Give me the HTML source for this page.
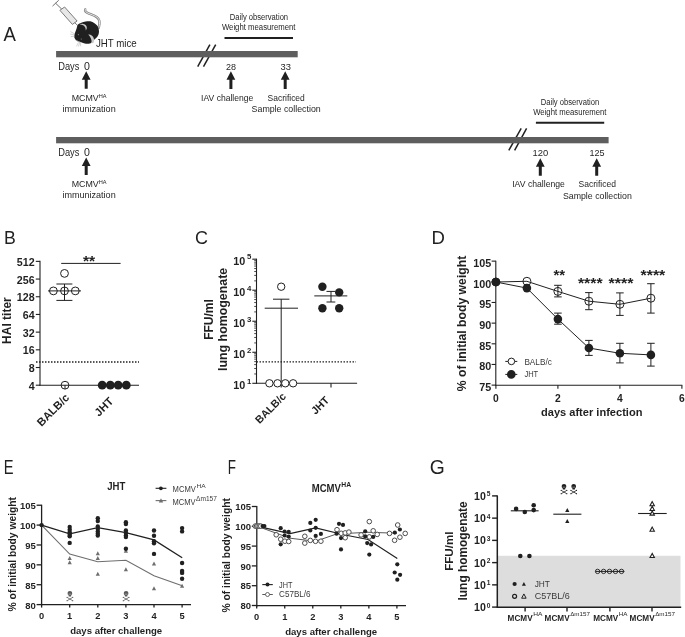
<!DOCTYPE html><html><head><meta charset="utf-8"><style>html,body{margin:0;padding:0;background:#fff;}svg{display:block;filter:grayscale(1);}text{font-family:"Liberation Sans", sans-serif;}</style></head><body>
<svg width="685" height="637" viewBox="0 0 685 637">
<rect width="685" height="637" fill="#fff"/>
<text x="3.60" y="41.00" font-size="19.60" font-weight="normal" text-anchor="start" fill="#231f20" textLength="12.40" lengthAdjust="spacingAndGlyphs">A</text>
<text x="4.00" y="243.60" font-size="18.80" font-weight="normal" text-anchor="start" fill="#231f20" textLength="11.80" lengthAdjust="spacingAndGlyphs">B</text>
<text x="195.00" y="243.60" font-size="18.80" font-weight="normal" text-anchor="start" fill="#231f20" textLength="13.00" lengthAdjust="spacingAndGlyphs">C</text>
<text x="431.60" y="243.50" font-size="18.80" font-weight="normal" text-anchor="start" fill="#231f20" textLength="13.40" lengthAdjust="spacingAndGlyphs">D</text>
<text x="3.70" y="473.90" font-size="19.60" font-weight="normal" text-anchor="start" fill="#231f20" textLength="9.80" lengthAdjust="spacingAndGlyphs">E</text>
<text x="227.80" y="473.90" font-size="19.60" font-weight="normal" text-anchor="start" fill="#231f20" textLength="8.20" lengthAdjust="spacingAndGlyphs">F</text>
<text x="429.80" y="474.00" font-size="20.50" font-weight="normal" text-anchor="start" fill="#231f20" textLength="15.00" lengthAdjust="spacingAndGlyphs">G</text>
<line x1="52.50" y1="6.10" x2="58.70" y2="0.30" stroke="#6d6e71" stroke-width="1.00"/>
<line x1="55.60" y1="3.20" x2="61.80" y2="9.20" stroke="#6d6e71" stroke-width="1.00"/>
<polygon points="59.9,10.3 64.6,7.0 77.1,21.0 72.4,24.4" fill="#e6e7e8" stroke="#6d6e71" stroke-width="0.9"/>
<line x1="74.80" y1="22.80" x2="77.80" y2="25.60" stroke="#6d6e71" stroke-width="0.90"/>
<path d="M85.2,9.4 C84.6,11 86,12.4 89,13.6 C94,15.6 98.6,16.6 99.4,21 C99.8,23.6 99.3,25.6 98.8,27.6" fill="none" stroke="#808285" stroke-width="2.4" stroke-linecap="round"/>
<path d="M85.2,9.4 C84.6,11 86,12.4 89,13.6 C94,15.6 98.6,16.6 99.4,21 C99.8,23.6 99.3,25.6 98.8,27.6" fill="none" stroke="#e6e7e8" stroke-width="1.0" stroke-linecap="round"/>
<path d="M78.00,24.60 C78.78,23.65 80.03,23.22 81.30,22.70 C82.57,22.18 84.10,21.73 85.60,21.50 C87.10,21.27 88.82,21.02 90.30,21.30 C91.78,21.58 93.25,22.33 94.50,23.20 C95.75,24.07 97.05,25.17 97.80,26.50 C98.55,27.83 98.92,29.78 99.00,31.20 C99.08,32.62 98.73,33.90 98.30,35.00 C97.87,36.10 97.18,36.93 96.40,37.80 C95.62,38.67 94.38,39.42 93.60,40.20 C92.82,40.98 92.33,41.95 91.70,42.50 C91.07,43.05 90.75,43.30 89.80,43.50 C88.85,43.70 87.33,43.87 86.00,43.70 C84.67,43.53 83.13,42.93 81.80,42.50 C80.47,42.07 79.10,41.65 78.00,41.10 C76.90,40.55 75.83,40.07 75.20,39.20 C74.57,38.33 74.20,37.07 74.20,35.90 C74.20,34.73 74.80,33.45 75.20,32.20 C75.60,30.95 76.13,29.67 76.60,28.40 C77.07,27.13 77.22,25.55 78.00,24.60 Z" fill="#231f20"/>
<path d="M79.6,24.4 C82.6,23.2 85.6,24.0 86.6,26.6 C87.2,28.2 86.6,29.6 85.8,30.4 C85.8,28.4 85.0,26.6 83.6,25.6 C82.4,24.8 81.0,24.4 79.6,24.4 Z" fill="#c7c8ca"/>
<path d="M88.2,34.6 C91.4,34.6 93.8,36.6 94.0,39.6 C94.1,41.0 93.8,42.2 93.3,43.1 L91.3,43.3 C91.8,41.6 91.6,39.6 90.8,38.2 C90.2,37.0 89.4,35.8 88.2,34.6 Z" fill="#c7c8ca"/>
<path d="M75.2,39.4 C76.2,40.6 78.0,41.6 80.4,42.4" fill="none" stroke="#808285" stroke-width="0.7"/>
<circle cx="78.40" cy="34.60" r="0.60" fill="#808285" stroke="none" stroke-width="1.00"/>
<circle cx="81.30" cy="39.00" r="0.60" fill="#808285" stroke="none" stroke-width="1.00"/>
<line x1="70.40" y1="31.60" x2="75.00" y2="34.00" stroke="#a7a9ac" stroke-width="0.50"/>
<line x1="70.20" y1="34.00" x2="75.00" y2="35.20" stroke="#a7a9ac" stroke-width="0.50"/>
<line x1="70.60" y1="36.60" x2="75.00" y2="36.20" stroke="#a7a9ac" stroke-width="0.50"/>
<line x1="76.40" y1="46.40" x2="78.40" y2="42.60" stroke="#a7a9ac" stroke-width="0.50"/>
<line x1="78.40" y1="46.60" x2="79.60" y2="42.80" stroke="#a7a9ac" stroke-width="0.50"/>
<line x1="80.60" y1="46.20" x2="80.60" y2="42.80" stroke="#a7a9ac" stroke-width="0.50"/>
<text x="95.90" y="46.70" font-size="10.80" font-weight="normal" text-anchor="start" fill="#231f20" textLength="40.90" lengthAdjust="spacingAndGlyphs">JHT mice</text>
<line x1="197.70" y1="66.60" x2="209.90" y2="44.70" stroke="#231f20" stroke-width="1.50"/>
<line x1="203.50" y1="66.60" x2="215.70" y2="44.70" stroke="#231f20" stroke-width="1.50"/>
<rect x="56.1" y="51.00" width="241.60" height="6.3" fill="#5d5e60"/>
<line x1="508.80" y1="150.30" x2="521.20" y2="128.30" stroke="#231f20" stroke-width="1.50"/>
<line x1="514.60" y1="150.30" x2="526.60" y2="128.30" stroke="#231f20" stroke-width="1.50"/>
<rect x="56.1" y="137.00" width="552.50" height="6.3" fill="#5d5e60"/>
<text x="58.20" y="70.00" font-size="10.60" font-weight="normal" text-anchor="start" fill="#231f20" textLength="21.20" lengthAdjust="spacingAndGlyphs">Days</text>
<text x="84.00" y="70.00" font-size="10.60" font-weight="normal" text-anchor="start" fill="#231f20" textLength="5.90" lengthAdjust="spacingAndGlyphs">0</text>
<polygon points="86.20,71.30 90.60,79.70 87.70,79.70 87.70,88.80 84.70,88.80 84.70,79.70 81.80,79.70" fill="#231f20"/>
<text x="71.70" y="101.00" font-size="9.20" font-weight="normal" text-anchor="start" fill="#231f20" textLength="27.00" lengthAdjust="spacingAndGlyphs">MCMV</text>
<text x="98.70" y="98.00" font-size="4.80" font-weight="normal" text-anchor="start" fill="#231f20" textLength="7.80" lengthAdjust="spacingAndGlyphs">HA</text>
<text x="62.40" y="112.10" font-size="9.60" font-weight="normal" text-anchor="start" fill="#231f20" textLength="53.30" lengthAdjust="spacingAndGlyphs">immunization</text>
<text x="58.20" y="156.20" font-size="10.60" font-weight="normal" text-anchor="start" fill="#231f20" textLength="21.20" lengthAdjust="spacingAndGlyphs">Days</text>
<text x="84.00" y="156.20" font-size="10.60" font-weight="normal" text-anchor="start" fill="#231f20" textLength="5.90" lengthAdjust="spacingAndGlyphs">0</text>
<polygon points="86.20,157.50 90.60,165.90 87.70,165.90 87.70,175.00 84.70,175.00 84.70,165.90 81.80,165.90" fill="#231f20"/>
<text x="71.70" y="187.20" font-size="9.20" font-weight="normal" text-anchor="start" fill="#231f20" textLength="27.00" lengthAdjust="spacingAndGlyphs">MCMV</text>
<text x="98.70" y="184.20" font-size="4.80" font-weight="normal" text-anchor="start" fill="#231f20" textLength="7.80" lengthAdjust="spacingAndGlyphs">HA</text>
<text x="62.40" y="198.30" font-size="9.60" font-weight="normal" text-anchor="start" fill="#231f20" textLength="53.30" lengthAdjust="spacingAndGlyphs">immunization</text>
<text x="229.80" y="19.80" font-size="8.30" font-weight="normal" text-anchor="start" fill="#231f20" textLength="58.30" lengthAdjust="spacingAndGlyphs">Daily observation</text>
<text x="221.90" y="30.00" font-size="8.30" font-weight="normal" text-anchor="start" fill="#231f20" textLength="73.60" lengthAdjust="spacingAndGlyphs">Weight measurement</text>
<line x1="224.50" y1="38.00" x2="293.00" y2="38.00" stroke="#231f20" stroke-width="2.00"/>
<text x="225.90" y="69.90" font-size="9.90" font-weight="normal" text-anchor="start" fill="#231f20" textLength="10.00" lengthAdjust="spacingAndGlyphs">28</text>
<text x="280.60" y="69.90" font-size="9.90" font-weight="normal" text-anchor="start" fill="#231f20" textLength="10.40" lengthAdjust="spacingAndGlyphs">33</text>
<polygon points="230.90,71.30 235.30,79.70 232.40,79.70 232.40,89.00 229.40,89.00 229.40,79.70 226.50,79.70" fill="#231f20"/>
<polygon points="285.20,71.30 289.60,79.70 286.70,79.70 286.70,89.00 283.70,89.00 283.70,79.70 280.80,79.70" fill="#231f20"/>
<text x="201.10" y="100.80" font-size="9.60" font-weight="normal" text-anchor="start" fill="#231f20" textLength="52.20" lengthAdjust="spacingAndGlyphs">IAV challenge</text>
<text x="267.60" y="100.80" font-size="9.60" font-weight="normal" text-anchor="start" fill="#231f20" textLength="37.20" lengthAdjust="spacingAndGlyphs">Sacrificed</text>
<text x="251.60" y="112.00" font-size="9.60" font-weight="normal" text-anchor="start" fill="#231f20" textLength="69.10" lengthAdjust="spacingAndGlyphs">Sample collection</text>
<text x="540.70" y="104.50" font-size="8.30" font-weight="normal" text-anchor="start" fill="#231f20" textLength="58.50" lengthAdjust="spacingAndGlyphs">Daily observation</text>
<text x="533.20" y="114.60" font-size="8.30" font-weight="normal" text-anchor="start" fill="#231f20" textLength="73.30" lengthAdjust="spacingAndGlyphs">Weight measurement</text>
<line x1="535.90" y1="122.80" x2="604.20" y2="122.80" stroke="#231f20" stroke-width="2.00"/>
<text x="532.60" y="156.30" font-size="9.90" font-weight="normal" text-anchor="start" fill="#231f20" textLength="15.70" lengthAdjust="spacingAndGlyphs">120</text>
<text x="589.40" y="156.30" font-size="9.90" font-weight="normal" text-anchor="start" fill="#231f20" textLength="15.10" lengthAdjust="spacingAndGlyphs">125</text>
<polygon points="540.30,158.30 544.70,166.70 541.80,166.70 541.80,175.70 538.80,175.70 538.80,166.70 535.90,166.70" fill="#231f20"/>
<polygon points="596.70,158.30 601.10,166.70 598.20,166.70 598.20,175.70 595.20,175.70 595.20,166.70 592.30,166.70" fill="#231f20"/>
<text x="512.20" y="187.30" font-size="9.60" font-weight="normal" text-anchor="start" fill="#231f20" textLength="52.70" lengthAdjust="spacingAndGlyphs">IAV challenge</text>
<text x="578.60" y="187.30" font-size="9.60" font-weight="normal" text-anchor="start" fill="#231f20" textLength="37.40" lengthAdjust="spacingAndGlyphs">Sacrificed</text>
<text x="562.90" y="198.90" font-size="9.60" font-weight="normal" text-anchor="start" fill="#231f20" textLength="68.90" lengthAdjust="spacingAndGlyphs">Sample collection</text>
<line x1="40.00" y1="260.87" x2="40.00" y2="385.70" stroke="#231f20" stroke-width="1.10"/>
<line x1="39.50" y1="385.20" x2="139.00" y2="385.20" stroke="#231f20" stroke-width="1.10"/>
<line x1="35.80" y1="261.37" x2="40.00" y2="261.37" stroke="#231f20" stroke-width="1.10"/>
<text x="34.60" y="265.87" font-size="10.70" font-weight="bold" text-anchor="end" fill="#231f20">512</text>
<line x1="35.80" y1="279.06" x2="40.00" y2="279.06" stroke="#231f20" stroke-width="1.10"/>
<text x="34.60" y="283.56" font-size="10.70" font-weight="bold" text-anchor="end" fill="#231f20">256</text>
<line x1="35.80" y1="296.75" x2="40.00" y2="296.75" stroke="#231f20" stroke-width="1.10"/>
<text x="34.60" y="301.25" font-size="10.70" font-weight="bold" text-anchor="end" fill="#231f20">128</text>
<line x1="35.80" y1="314.44" x2="40.00" y2="314.44" stroke="#231f20" stroke-width="1.10"/>
<text x="34.60" y="318.94" font-size="10.70" font-weight="bold" text-anchor="end" fill="#231f20">64</text>
<line x1="35.80" y1="332.13" x2="40.00" y2="332.13" stroke="#231f20" stroke-width="1.10"/>
<text x="34.60" y="336.63" font-size="10.70" font-weight="bold" text-anchor="end" fill="#231f20">32</text>
<line x1="35.80" y1="349.82" x2="40.00" y2="349.82" stroke="#231f20" stroke-width="1.10"/>
<text x="34.60" y="354.32" font-size="10.70" font-weight="bold" text-anchor="end" fill="#231f20">16</text>
<line x1="35.80" y1="367.51" x2="40.00" y2="367.51" stroke="#231f20" stroke-width="1.10"/>
<text x="34.60" y="372.01" font-size="10.70" font-weight="bold" text-anchor="end" fill="#231f20">8</text>
<line x1="35.80" y1="385.20" x2="40.00" y2="385.20" stroke="#231f20" stroke-width="1.10"/>
<text x="34.60" y="389.70" font-size="10.70" font-weight="bold" text-anchor="end" fill="#231f20">4</text>
<line x1="36.00" y1="362.00" x2="139.00" y2="362.00" stroke="#231f20" stroke-width="1.30" stroke-dasharray="1.5 1.5"/>
<text transform="translate(10.6,320.6) rotate(-90)" x="0" y="0" font-size="12" font-weight="bold" text-anchor="middle" fill="#231f20">HAI titer</text>
<line x1="61.20" y1="263.40" x2="120.60" y2="263.40" stroke="#231f20" stroke-width="1.00"/>
<text x="89.10" y="266.40" font-size="15.00" font-weight="bold" text-anchor="middle" fill="#231f20" textLength="12.20" lengthAdjust="spacingAndGlyphs">**</text>
<line x1="64.50" y1="284.00" x2="64.50" y2="300.40" stroke="#231f20" stroke-width="1.00"/>
<line x1="56.40" y1="284.00" x2="72.40" y2="284.00" stroke="#231f20" stroke-width="1.00"/>
<line x1="56.40" y1="300.40" x2="72.40" y2="300.40" stroke="#231f20" stroke-width="1.00"/>
<circle cx="64.50" cy="273.40" r="3.90" fill="none" stroke="#231f20" stroke-width="1.00"/>
<circle cx="53.40" cy="290.90" r="3.90" fill="none" stroke="#231f20" stroke-width="1.00"/>
<circle cx="64.50" cy="290.90" r="3.90" fill="none" stroke="#231f20" stroke-width="1.00"/>
<circle cx="75.30" cy="290.90" r="3.90" fill="none" stroke="#231f20" stroke-width="1.00"/>
<circle cx="65.00" cy="385.20" r="3.90" fill="none" stroke="#231f20" stroke-width="1.00"/>
<line x1="48.00" y1="290.90" x2="81.00" y2="290.90" stroke="#231f20" stroke-width="1.00"/>
<line x1="65.00" y1="385.20" x2="65.00" y2="389.00" stroke="#231f20" stroke-width="1.00"/>
<circle cx="102.20" cy="385.20" r="4.40" fill="#231f20" stroke="none" stroke-width="1.00"/>
<circle cx="110.30" cy="385.20" r="4.40" fill="#231f20" stroke="none" stroke-width="1.00"/>
<circle cx="118.20" cy="385.20" r="4.40" fill="#231f20" stroke="none" stroke-width="1.00"/>
<circle cx="126.30" cy="385.20" r="4.40" fill="#231f20" stroke="none" stroke-width="1.00"/>
<text transform="translate(70.00,398.40) rotate(-45)" x="0" y="0" font-size="11.20" font-weight="bold" text-anchor="end" fill="#231f20">BALB/c</text>
<text transform="translate(114.00,402.00) rotate(-45)" x="0" y="0" font-size="11.20" font-weight="bold" text-anchor="end" fill="#231f20">JHT</text>
<line x1="256.50" y1="258.68" x2="256.50" y2="383.80" stroke="#231f20" stroke-width="1.10"/>
<line x1="256.00" y1="383.30" x2="357.10" y2="383.30" stroke="#231f20" stroke-width="1.10"/>
<line x1="252.30" y1="383.30" x2="256.50" y2="383.30" stroke="#231f20" stroke-width="1.10"/>
<text x="245.30" y="389.10" font-size="10.80" font-weight="bold" text-anchor="end" fill="#231f20">10</text>
<text x="246.90" y="383.60" font-size="7.80" font-weight="bold" text-anchor="start" fill="#231f20">1</text>
<line x1="254.20" y1="373.96" x2="256.50" y2="373.96" stroke="#231f20" stroke-width="0.80"/>
<line x1="254.20" y1="368.49" x2="256.50" y2="368.49" stroke="#231f20" stroke-width="0.80"/>
<line x1="254.20" y1="364.62" x2="256.50" y2="364.62" stroke="#231f20" stroke-width="0.80"/>
<line x1="254.20" y1="361.61" x2="256.50" y2="361.61" stroke="#231f20" stroke-width="0.80"/>
<line x1="254.20" y1="359.15" x2="256.50" y2="359.15" stroke="#231f20" stroke-width="0.80"/>
<line x1="254.20" y1="357.08" x2="256.50" y2="357.08" stroke="#231f20" stroke-width="0.80"/>
<line x1="254.20" y1="355.28" x2="256.50" y2="355.28" stroke="#231f20" stroke-width="0.80"/>
<line x1="254.20" y1="353.69" x2="256.50" y2="353.69" stroke="#231f20" stroke-width="0.80"/>
<line x1="252.30" y1="352.27" x2="256.50" y2="352.27" stroke="#231f20" stroke-width="1.10"/>
<text x="245.30" y="358.07" font-size="10.80" font-weight="bold" text-anchor="end" fill="#231f20">10</text>
<text x="246.90" y="352.57" font-size="7.80" font-weight="bold" text-anchor="start" fill="#231f20">2</text>
<line x1="254.20" y1="342.93" x2="256.50" y2="342.93" stroke="#231f20" stroke-width="0.80"/>
<line x1="254.20" y1="337.46" x2="256.50" y2="337.46" stroke="#231f20" stroke-width="0.80"/>
<line x1="254.20" y1="333.59" x2="256.50" y2="333.59" stroke="#231f20" stroke-width="0.80"/>
<line x1="254.20" y1="330.58" x2="256.50" y2="330.58" stroke="#231f20" stroke-width="0.80"/>
<line x1="254.20" y1="328.12" x2="256.50" y2="328.12" stroke="#231f20" stroke-width="0.80"/>
<line x1="254.20" y1="326.05" x2="256.50" y2="326.05" stroke="#231f20" stroke-width="0.80"/>
<line x1="254.20" y1="324.25" x2="256.50" y2="324.25" stroke="#231f20" stroke-width="0.80"/>
<line x1="254.20" y1="322.66" x2="256.50" y2="322.66" stroke="#231f20" stroke-width="0.80"/>
<line x1="252.30" y1="321.24" x2="256.50" y2="321.24" stroke="#231f20" stroke-width="1.10"/>
<text x="245.30" y="327.04" font-size="10.80" font-weight="bold" text-anchor="end" fill="#231f20">10</text>
<text x="246.90" y="321.54" font-size="7.80" font-weight="bold" text-anchor="start" fill="#231f20">3</text>
<line x1="254.20" y1="311.90" x2="256.50" y2="311.90" stroke="#231f20" stroke-width="0.80"/>
<line x1="254.20" y1="306.43" x2="256.50" y2="306.43" stroke="#231f20" stroke-width="0.80"/>
<line x1="254.20" y1="302.56" x2="256.50" y2="302.56" stroke="#231f20" stroke-width="0.80"/>
<line x1="254.20" y1="299.55" x2="256.50" y2="299.55" stroke="#231f20" stroke-width="0.80"/>
<line x1="254.20" y1="297.09" x2="256.50" y2="297.09" stroke="#231f20" stroke-width="0.80"/>
<line x1="254.20" y1="295.02" x2="256.50" y2="295.02" stroke="#231f20" stroke-width="0.80"/>
<line x1="254.20" y1="293.22" x2="256.50" y2="293.22" stroke="#231f20" stroke-width="0.80"/>
<line x1="254.20" y1="291.63" x2="256.50" y2="291.63" stroke="#231f20" stroke-width="0.80"/>
<line x1="252.30" y1="290.21" x2="256.50" y2="290.21" stroke="#231f20" stroke-width="1.10"/>
<text x="245.30" y="296.01" font-size="10.80" font-weight="bold" text-anchor="end" fill="#231f20">10</text>
<text x="246.90" y="290.51" font-size="7.80" font-weight="bold" text-anchor="start" fill="#231f20">4</text>
<line x1="254.20" y1="280.87" x2="256.50" y2="280.87" stroke="#231f20" stroke-width="0.80"/>
<line x1="254.20" y1="275.40" x2="256.50" y2="275.40" stroke="#231f20" stroke-width="0.80"/>
<line x1="254.20" y1="271.53" x2="256.50" y2="271.53" stroke="#231f20" stroke-width="0.80"/>
<line x1="254.20" y1="268.52" x2="256.50" y2="268.52" stroke="#231f20" stroke-width="0.80"/>
<line x1="254.20" y1="266.06" x2="256.50" y2="266.06" stroke="#231f20" stroke-width="0.80"/>
<line x1="254.20" y1="263.99" x2="256.50" y2="263.99" stroke="#231f20" stroke-width="0.80"/>
<line x1="254.20" y1="262.19" x2="256.50" y2="262.19" stroke="#231f20" stroke-width="0.80"/>
<line x1="254.20" y1="260.60" x2="256.50" y2="260.60" stroke="#231f20" stroke-width="0.80"/>
<line x1="252.30" y1="259.18" x2="256.50" y2="259.18" stroke="#231f20" stroke-width="1.10"/>
<text x="245.30" y="264.98" font-size="10.80" font-weight="bold" text-anchor="end" fill="#231f20">10</text>
<text x="246.90" y="259.48" font-size="7.80" font-weight="bold" text-anchor="start" fill="#231f20">5</text>
<line x1="331.00" y1="383.30" x2="331.00" y2="387.40" stroke="#231f20" stroke-width="1.10"/>
<line x1="281.20" y1="383.30" x2="281.20" y2="387.40" stroke="#231f20" stroke-width="1.10"/>
<line x1="256.50" y1="361.80" x2="356.00" y2="361.80" stroke="#231f20" stroke-width="1.30" stroke-dasharray="1.5 1.5"/>
<text transform="translate(213.4,319.5) rotate(-90)" x="0" y="0" font-size="12" font-weight="bold" text-anchor="middle" fill="#231f20">FFU/ml</text>
<text transform="translate(226.6,319.4) rotate(-90)" x="0" y="0" font-size="12.4" font-weight="bold" text-anchor="middle" fill="#231f20">lung homogenate</text>
<line x1="281.20" y1="299.20" x2="281.20" y2="383.30" stroke="#231f20" stroke-width="1.00"/>
<line x1="273.00" y1="299.20" x2="289.40" y2="299.20" stroke="#231f20" stroke-width="1.00"/>
<line x1="264.70" y1="308.20" x2="298.00" y2="308.20" stroke="#231f20" stroke-width="1.00"/>
<circle cx="281.20" cy="286.70" r="3.70" fill="#fff" stroke="#231f20" stroke-width="1.00"/>
<circle cx="269.40" cy="383.30" r="3.70" fill="#fff" stroke="#231f20" stroke-width="1.00"/>
<circle cx="277.50" cy="383.30" r="3.70" fill="#fff" stroke="#231f20" stroke-width="1.00"/>
<circle cx="285.30" cy="383.30" r="3.70" fill="#fff" stroke="#231f20" stroke-width="1.00"/>
<circle cx="293.10" cy="383.30" r="3.70" fill="#fff" stroke="#231f20" stroke-width="1.00"/>
<circle cx="322.40" cy="286.70" r="4.20" fill="#231f20" stroke="none" stroke-width="1.00"/>
<circle cx="339.20" cy="292.40" r="4.20" fill="#231f20" stroke="none" stroke-width="1.00"/>
<circle cx="322.40" cy="308.20" r="4.20" fill="#231f20" stroke="none" stroke-width="1.00"/>
<circle cx="339.20" cy="308.20" r="4.20" fill="#231f20" stroke="none" stroke-width="1.00"/>
<line x1="331.00" y1="291.40" x2="331.00" y2="302.00" stroke="#231f20" stroke-width="1.00"/>
<line x1="326.50" y1="291.40" x2="335.30" y2="291.40" stroke="#231f20" stroke-width="1.00"/>
<line x1="326.50" y1="302.00" x2="335.30" y2="302.00" stroke="#231f20" stroke-width="1.00"/>
<line x1="314.30" y1="295.90" x2="347.30" y2="295.90" stroke="#231f20" stroke-width="1.00"/>
<text transform="translate(286.80,397.00) rotate(-45)" x="0" y="0" font-size="10.70" font-weight="bold" text-anchor="end" fill="#231f20">BALB/c</text>
<text transform="translate(329.90,400.80) rotate(-45)" x="0" y="0" font-size="10.70" font-weight="bold" text-anchor="end" fill="#231f20">JHT</text>
<line x1="495.80" y1="260.63" x2="495.80" y2="385.80" stroke="#231f20" stroke-width="1.10"/>
<line x1="495.30" y1="385.30" x2="682.30" y2="385.30" stroke="#231f20" stroke-width="1.10"/>
<line x1="491.60" y1="261.13" x2="495.80" y2="261.13" stroke="#231f20" stroke-width="1.10"/>
<text x="491.30" y="267.03" font-size="10.80" font-weight="bold" text-anchor="end" fill="#231f20">105</text>
<line x1="491.60" y1="281.80" x2="495.80" y2="281.80" stroke="#231f20" stroke-width="1.10"/>
<text x="491.30" y="287.70" font-size="10.80" font-weight="bold" text-anchor="end" fill="#231f20">100</text>
<line x1="491.60" y1="302.47" x2="495.80" y2="302.47" stroke="#231f20" stroke-width="1.10"/>
<text x="491.30" y="308.37" font-size="10.80" font-weight="bold" text-anchor="end" fill="#231f20">95</text>
<line x1="491.60" y1="323.13" x2="495.80" y2="323.13" stroke="#231f20" stroke-width="1.10"/>
<text x="491.30" y="329.03" font-size="10.80" font-weight="bold" text-anchor="end" fill="#231f20">90</text>
<line x1="491.60" y1="343.80" x2="495.80" y2="343.80" stroke="#231f20" stroke-width="1.10"/>
<text x="491.30" y="349.69" font-size="10.80" font-weight="bold" text-anchor="end" fill="#231f20">85</text>
<line x1="491.60" y1="364.46" x2="495.80" y2="364.46" stroke="#231f20" stroke-width="1.10"/>
<text x="491.30" y="370.36" font-size="10.80" font-weight="bold" text-anchor="end" fill="#231f20">80</text>
<line x1="491.60" y1="385.12" x2="495.80" y2="385.12" stroke="#231f20" stroke-width="1.10"/>
<text x="491.30" y="391.02" font-size="10.80" font-weight="bold" text-anchor="end" fill="#231f20">75</text>
<line x1="495.90" y1="385.30" x2="495.90" y2="388.80" stroke="#231f20" stroke-width="1.10"/>
<text x="495.90" y="402.30" font-size="10.30" font-weight="bold" text-anchor="middle" fill="#231f20">0</text>
<line x1="557.90" y1="385.30" x2="557.90" y2="388.80" stroke="#231f20" stroke-width="1.10"/>
<text x="557.90" y="402.30" font-size="10.30" font-weight="bold" text-anchor="middle" fill="#231f20">2</text>
<line x1="619.90" y1="385.30" x2="619.90" y2="388.80" stroke="#231f20" stroke-width="1.10"/>
<text x="619.90" y="402.30" font-size="10.30" font-weight="bold" text-anchor="middle" fill="#231f20">4</text>
<line x1="681.90" y1="385.30" x2="681.90" y2="388.80" stroke="#231f20" stroke-width="1.10"/>
<text x="681.90" y="402.30" font-size="10.30" font-weight="bold" text-anchor="middle" fill="#231f20">6</text>
<text x="591.70" y="416.00" font-size="11.00" font-weight="bold" text-anchor="middle" fill="#231f20" textLength="101.40" lengthAdjust="spacingAndGlyphs">days after infection</text>
<text transform="translate(466.2,323.5) rotate(-90)" x="0" y="0" font-size="12.2" font-weight="bold" text-anchor="middle" fill="#231f20">% of initial body weight</text>
<polyline points="495.90,282.00 526.90,281.30 557.90,291.40 588.90,301.20 619.90,304.30 650.90,298.20" fill="none" stroke="#231f20" stroke-width="1.00"/>
<polyline points="495.90,282.00 526.90,288.10 557.90,319.10 588.90,348.00 619.90,353.30 650.90,354.90" fill="none" stroke="#231f20" stroke-width="1.00"/>
<line x1="557.90" y1="285.30" x2="557.90" y2="296.90" stroke="#231f20" stroke-width="1.00"/>
<line x1="554.10" y1="285.30" x2="561.70" y2="285.30" stroke="#231f20" stroke-width="1.00"/>
<line x1="554.10" y1="296.90" x2="561.70" y2="296.90" stroke="#231f20" stroke-width="1.00"/>
<line x1="588.90" y1="292.60" x2="588.90" y2="309.70" stroke="#231f20" stroke-width="1.00"/>
<line x1="585.10" y1="292.60" x2="592.70" y2="292.60" stroke="#231f20" stroke-width="1.00"/>
<line x1="585.10" y1="309.70" x2="592.70" y2="309.70" stroke="#231f20" stroke-width="1.00"/>
<line x1="619.90" y1="292.90" x2="619.90" y2="315.40" stroke="#231f20" stroke-width="1.00"/>
<line x1="616.10" y1="292.90" x2="623.70" y2="292.90" stroke="#231f20" stroke-width="1.00"/>
<line x1="616.10" y1="315.40" x2="623.70" y2="315.40" stroke="#231f20" stroke-width="1.00"/>
<line x1="650.90" y1="283.70" x2="650.90" y2="313.10" stroke="#231f20" stroke-width="1.00"/>
<line x1="647.10" y1="283.70" x2="654.70" y2="283.70" stroke="#231f20" stroke-width="1.00"/>
<line x1="647.10" y1="313.10" x2="654.70" y2="313.10" stroke="#231f20" stroke-width="1.00"/>
<line x1="557.90" y1="313.10" x2="557.90" y2="324.20" stroke="#231f20" stroke-width="1.00"/>
<line x1="554.10" y1="313.10" x2="561.70" y2="313.10" stroke="#231f20" stroke-width="1.00"/>
<line x1="554.10" y1="324.20" x2="561.70" y2="324.20" stroke="#231f20" stroke-width="1.00"/>
<line x1="588.90" y1="340.40" x2="588.90" y2="355.40" stroke="#231f20" stroke-width="1.00"/>
<line x1="585.10" y1="340.40" x2="592.70" y2="340.40" stroke="#231f20" stroke-width="1.00"/>
<line x1="585.10" y1="355.40" x2="592.70" y2="355.40" stroke="#231f20" stroke-width="1.00"/>
<line x1="619.90" y1="343.30" x2="619.90" y2="362.90" stroke="#231f20" stroke-width="1.00"/>
<line x1="616.10" y1="343.30" x2="623.70" y2="343.30" stroke="#231f20" stroke-width="1.00"/>
<line x1="616.10" y1="362.90" x2="623.70" y2="362.90" stroke="#231f20" stroke-width="1.00"/>
<line x1="650.90" y1="343.30" x2="650.90" y2="366.10" stroke="#231f20" stroke-width="1.00"/>
<line x1="647.10" y1="343.30" x2="654.70" y2="343.30" stroke="#231f20" stroke-width="1.00"/>
<line x1="647.10" y1="366.10" x2="654.70" y2="366.10" stroke="#231f20" stroke-width="1.00"/>
<circle cx="495.90" cy="282.00" r="4.00" fill="none" stroke="#231f20" stroke-width="1.00"/>
<circle cx="526.90" cy="281.30" r="4.00" fill="none" stroke="#231f20" stroke-width="1.00"/>
<circle cx="557.90" cy="291.40" r="4.00" fill="none" stroke="#231f20" stroke-width="1.00"/>
<circle cx="588.90" cy="301.20" r="4.00" fill="none" stroke="#231f20" stroke-width="1.00"/>
<circle cx="619.90" cy="304.30" r="4.00" fill="none" stroke="#231f20" stroke-width="1.00"/>
<circle cx="650.90" cy="298.20" r="4.00" fill="none" stroke="#231f20" stroke-width="1.00"/>
<circle cx="495.90" cy="282.00" r="4.30" fill="#231f20" stroke="none" stroke-width="1.00"/>
<circle cx="526.90" cy="288.10" r="4.30" fill="#231f20" stroke="none" stroke-width="1.00"/>
<circle cx="557.90" cy="319.10" r="4.30" fill="#231f20" stroke="none" stroke-width="1.00"/>
<circle cx="588.90" cy="348.00" r="4.30" fill="#231f20" stroke="none" stroke-width="1.00"/>
<circle cx="619.90" cy="353.30" r="4.30" fill="#231f20" stroke="none" stroke-width="1.00"/>
<circle cx="650.90" cy="354.90" r="4.30" fill="#231f20" stroke="none" stroke-width="1.00"/>
<text x="559.20" y="280.30" font-size="15.00" font-weight="bold" text-anchor="middle" fill="#231f20" textLength="11.60" lengthAdjust="spacingAndGlyphs">**</text>
<text x="590.25" y="288.00" font-size="15.00" font-weight="bold" text-anchor="middle" fill="#231f20" textLength="24.70" lengthAdjust="spacingAndGlyphs">****</text>
<text x="621.10" y="288.40" font-size="15.00" font-weight="bold" text-anchor="middle" fill="#231f20" textLength="25.00" lengthAdjust="spacingAndGlyphs">****</text>
<text x="652.90" y="280.30" font-size="15.00" font-weight="bold" text-anchor="middle" fill="#231f20" textLength="24.80" lengthAdjust="spacingAndGlyphs">****</text>
<line x1="505.30" y1="361.40" x2="517.30" y2="361.40" stroke="#231f20" stroke-width="1.00"/>
<circle cx="511.40" cy="361.40" r="3.30" fill="#fff" stroke="#231f20" stroke-width="1.00"/>
<line x1="505.30" y1="374.40" x2="517.30" y2="374.40" stroke="#231f20" stroke-width="1.00"/>
<circle cx="511.30" cy="374.40" r="4.30" fill="#231f20" stroke="none" stroke-width="1.00"/>
<text x="524.40" y="364.90" font-size="8.40" font-weight="normal" text-anchor="start" fill="#3a3a3c" textLength="27.40" lengthAdjust="spacingAndGlyphs">BALB/c</text>
<text x="524.40" y="377.40" font-size="8.40" font-weight="normal" text-anchor="start" fill="#3a3a3c" textLength="13.80" lengthAdjust="spacingAndGlyphs">JHT</text>
<line x1="41.60" y1="504.73" x2="41.60" y2="605.40" stroke="#231f20" stroke-width="1.30"/>
<line x1="41.00" y1="604.60" x2="191.00" y2="604.60" stroke="#231f20" stroke-width="1.30"/>
<line x1="36.60" y1="505.23" x2="41.60" y2="505.23" stroke="#231f20" stroke-width="1.30"/>
<text x="35.90" y="509.33" font-size="9.50" font-weight="bold" text-anchor="end" fill="#231f20">105</text>
<line x1="36.60" y1="525.10" x2="41.60" y2="525.10" stroke="#231f20" stroke-width="1.30"/>
<text x="35.90" y="529.20" font-size="9.50" font-weight="bold" text-anchor="end" fill="#231f20">100</text>
<line x1="36.60" y1="544.98" x2="41.60" y2="544.98" stroke="#231f20" stroke-width="1.30"/>
<text x="35.90" y="549.08" font-size="9.50" font-weight="bold" text-anchor="end" fill="#231f20">95</text>
<line x1="36.60" y1="564.85" x2="41.60" y2="564.85" stroke="#231f20" stroke-width="1.30"/>
<text x="35.90" y="568.95" font-size="9.50" font-weight="bold" text-anchor="end" fill="#231f20">90</text>
<line x1="36.60" y1="584.73" x2="41.60" y2="584.73" stroke="#231f20" stroke-width="1.30"/>
<text x="35.90" y="588.83" font-size="9.50" font-weight="bold" text-anchor="end" fill="#231f20">85</text>
<line x1="36.60" y1="604.60" x2="41.60" y2="604.60" stroke="#231f20" stroke-width="1.30"/>
<text x="35.90" y="608.70" font-size="9.50" font-weight="bold" text-anchor="end" fill="#231f20">80</text>
<line x1="41.60" y1="604.60" x2="41.60" y2="607.60" stroke="#231f20" stroke-width="1.30"/>
<text x="41.60" y="619.40" font-size="9.30" font-weight="bold" text-anchor="middle" fill="#231f20">0</text>
<line x1="69.70" y1="604.60" x2="69.70" y2="607.60" stroke="#231f20" stroke-width="1.30"/>
<text x="69.70" y="619.40" font-size="9.30" font-weight="bold" text-anchor="middle" fill="#231f20">1</text>
<line x1="97.80" y1="604.60" x2="97.80" y2="607.60" stroke="#231f20" stroke-width="1.30"/>
<text x="97.80" y="619.40" font-size="9.30" font-weight="bold" text-anchor="middle" fill="#231f20">2</text>
<line x1="125.90" y1="604.60" x2="125.90" y2="607.60" stroke="#231f20" stroke-width="1.30"/>
<text x="125.90" y="619.40" font-size="9.30" font-weight="bold" text-anchor="middle" fill="#231f20">3</text>
<line x1="154.00" y1="604.60" x2="154.00" y2="607.60" stroke="#231f20" stroke-width="1.30"/>
<text x="154.00" y="619.40" font-size="9.30" font-weight="bold" text-anchor="middle" fill="#231f20">4</text>
<line x1="182.10" y1="604.60" x2="182.10" y2="607.60" stroke="#231f20" stroke-width="1.30"/>
<text x="182.10" y="619.40" font-size="9.30" font-weight="bold" text-anchor="middle" fill="#231f20">5</text>
<text x="116.20" y="633.80" font-size="9.60" font-weight="bold" text-anchor="middle" fill="#231f20" textLength="92.00" lengthAdjust="spacingAndGlyphs">days after challenge</text>
<text transform="translate(15.9,554.2) rotate(-90)" x="0" y="0" font-size="10.3" font-weight="bold" text-anchor="middle" fill="#231f20">% of initial body weight</text>
<text x="116.30" y="490.30" font-size="10.20" font-weight="bold" text-anchor="middle" fill="#231f20" textLength="18.10" lengthAdjust="spacingAndGlyphs">JHT</text>
<polyline points="41.60,525.10 69.70,554.10 97.70,561.80 125.90,560.20 154.00,575.80 182.20,585.70" fill="none" stroke="#6d6e71" stroke-width="1.10"/>
<polyline points="41.60,525.10 69.70,533.80 97.70,527.60 125.90,532.70 154.00,539.90 182.20,557.70" fill="none" stroke="#231f20" stroke-width="1.30"/>
<polygon points="69.70,556.11 67.60,560.10 71.80,560.10" fill="#6d6e71" stroke="none" stroke-width="1.00" stroke-linejoin="miter"/>
<polygon points="69.70,560.31 67.60,564.30 71.80,564.30" fill="#6d6e71" stroke="none" stroke-width="1.00" stroke-linejoin="miter"/>
<polygon points="97.80,551.21 95.70,555.20 99.90,555.20" fill="#6d6e71" stroke="none" stroke-width="1.00" stroke-linejoin="miter"/>
<polygon points="97.80,556.11 95.70,560.10 99.90,560.10" fill="#6d6e71" stroke="none" stroke-width="1.00" stroke-linejoin="miter"/>
<polygon points="97.80,571.81 95.70,575.80 99.90,575.80" fill="#6d6e71" stroke="none" stroke-width="1.00" stroke-linejoin="miter"/>
<polygon points="125.90,548.71 123.80,552.70 128.00,552.70" fill="#6d6e71" stroke="none" stroke-width="1.00" stroke-linejoin="miter"/>
<polygon points="125.90,567.31 123.80,571.30 128.00,571.30" fill="#6d6e71" stroke="none" stroke-width="1.00" stroke-linejoin="miter"/>
<polygon points="154.00,561.41 151.90,565.40 156.10,565.40" fill="#6d6e71" stroke="none" stroke-width="1.00" stroke-linejoin="miter"/>
<polygon points="154.00,586.31 151.90,590.30 156.10,590.30" fill="#6d6e71" stroke="none" stroke-width="1.00" stroke-linejoin="miter"/>
<polygon points="182.10,583.71 180.00,587.70 184.20,587.70" fill="#6d6e71" stroke="none" stroke-width="1.00" stroke-linejoin="miter"/>
<circle cx="41.60" cy="525.10" r="2.20" fill="#231f20" stroke="none" stroke-width="1.00"/>
<circle cx="69.70" cy="526.90" r="2.20" fill="#231f20" stroke="none" stroke-width="1.00"/>
<circle cx="69.70" cy="529.70" r="2.20" fill="#231f20" stroke="none" stroke-width="1.00"/>
<circle cx="69.70" cy="532.20" r="2.20" fill="#231f20" stroke="none" stroke-width="1.00"/>
<circle cx="69.70" cy="534.70" r="2.20" fill="#231f20" stroke="none" stroke-width="1.00"/>
<circle cx="69.70" cy="536.30" r="2.20" fill="#231f20" stroke="none" stroke-width="1.00"/>
<circle cx="69.70" cy="542.90" r="2.20" fill="#231f20" stroke="none" stroke-width="1.00"/>
<circle cx="97.80" cy="518.20" r="2.20" fill="#231f20" stroke="none" stroke-width="1.00"/>
<circle cx="97.80" cy="521.10" r="2.20" fill="#231f20" stroke="none" stroke-width="1.00"/>
<circle cx="97.80" cy="526.40" r="2.20" fill="#231f20" stroke="none" stroke-width="1.00"/>
<circle cx="97.80" cy="528.90" r="2.20" fill="#231f20" stroke="none" stroke-width="1.00"/>
<circle cx="97.80" cy="531.40" r="2.20" fill="#231f20" stroke="none" stroke-width="1.00"/>
<circle cx="97.80" cy="533.80" r="2.20" fill="#231f20" stroke="none" stroke-width="1.00"/>
<circle cx="97.80" cy="535.50" r="2.20" fill="#231f20" stroke="none" stroke-width="1.00"/>
<circle cx="125.90" cy="522.30" r="2.20" fill="#231f20" stroke="none" stroke-width="1.00"/>
<circle cx="125.90" cy="524.00" r="2.20" fill="#231f20" stroke="none" stroke-width="1.00"/>
<circle cx="125.90" cy="530.50" r="2.20" fill="#231f20" stroke="none" stroke-width="1.00"/>
<circle cx="125.90" cy="533.00" r="2.20" fill="#231f20" stroke="none" stroke-width="1.00"/>
<circle cx="125.90" cy="535.50" r="2.20" fill="#231f20" stroke="none" stroke-width="1.00"/>
<circle cx="125.90" cy="537.10" r="2.20" fill="#231f20" stroke="none" stroke-width="1.00"/>
<circle cx="125.90" cy="548.70" r="2.20" fill="#231f20" stroke="none" stroke-width="1.00"/>
<circle cx="154.00" cy="530.50" r="2.20" fill="#231f20" stroke="none" stroke-width="1.00"/>
<circle cx="154.00" cy="535.80" r="2.20" fill="#231f20" stroke="none" stroke-width="1.00"/>
<circle cx="154.00" cy="541.20" r="2.20" fill="#231f20" stroke="none" stroke-width="1.00"/>
<circle cx="154.00" cy="543.20" r="2.20" fill="#231f20" stroke="none" stroke-width="1.00"/>
<circle cx="154.00" cy="553.90" r="2.20" fill="#231f20" stroke="none" stroke-width="1.00"/>
<circle cx="182.10" cy="528.10" r="2.20" fill="#231f20" stroke="none" stroke-width="1.00"/>
<circle cx="182.10" cy="531.40" r="2.20" fill="#231f20" stroke="none" stroke-width="1.00"/>
<circle cx="182.10" cy="563.00" r="2.20" fill="#231f20" stroke="none" stroke-width="1.00"/>
<circle cx="182.10" cy="570.90" r="2.20" fill="#231f20" stroke="none" stroke-width="1.00"/>
<circle cx="182.10" cy="572.90" r="2.20" fill="#231f20" stroke="none" stroke-width="1.00"/>
<circle cx="182.10" cy="578.80" r="2.20" fill="#231f20" stroke="none" stroke-width="1.00"/>
<g transform="translate(69.90,591.20) scale(1.000)">
<path d="M-2.3,2.2 C-2.3,0.6 -1.3,-0.1 0,-0.1 C1.3,-0.1 2.3,0.6 2.3,2.2 C2.3,3.4 1.6,3.9 1.2,4.2 L1.2,5.4 L-1.2,5.4 L-1.2,4.2 C-1.6,3.9 -2.3,3.4 -2.3,2.2 Z" fill="#58595b"/>
<rect x="-1.5" y="2.5" width="3" height="0.9" fill="#fff" opacity="0.45"/>
<line x1="-2.6" y1="6.3" x2="2.6" y2="9.4" stroke="#58595b" stroke-width="0.8"/>
<line x1="2.6" y1="6.3" x2="-2.6" y2="9.4" stroke="#58595b" stroke-width="0.8"/>
<circle cx="-2.80" cy="6.20" r="0.6" fill="#58595b"/>
<circle cx="2.80" cy="6.20" r="0.6" fill="#58595b"/>
<circle cx="-2.80" cy="9.50" r="0.6" fill="#58595b"/>
<circle cx="2.80" cy="9.50" r="0.6" fill="#58595b"/>
</g>
<g transform="translate(126.10,591.20) scale(1.000)">
<path d="M-2.3,2.2 C-2.3,0.6 -1.3,-0.1 0,-0.1 C1.3,-0.1 2.3,0.6 2.3,2.2 C2.3,3.4 1.6,3.9 1.2,4.2 L1.2,5.4 L-1.2,5.4 L-1.2,4.2 C-1.6,3.9 -2.3,3.4 -2.3,2.2 Z" fill="#58595b"/>
<rect x="-1.5" y="2.5" width="3" height="0.9" fill="#fff" opacity="0.45"/>
<line x1="-2.6" y1="6.3" x2="2.6" y2="9.4" stroke="#58595b" stroke-width="0.8"/>
<line x1="2.6" y1="6.3" x2="-2.6" y2="9.4" stroke="#58595b" stroke-width="0.8"/>
<circle cx="-2.80" cy="6.20" r="0.6" fill="#58595b"/>
<circle cx="2.80" cy="6.20" r="0.6" fill="#58595b"/>
<circle cx="-2.80" cy="9.50" r="0.6" fill="#58595b"/>
<circle cx="2.80" cy="9.50" r="0.6" fill="#58595b"/>
</g>
<line x1="155.60" y1="488.30" x2="166.40" y2="488.30" stroke="#231f20" stroke-width="1.10"/>
<circle cx="160.90" cy="488.30" r="1.90" fill="#231f20" stroke="none" stroke-width="1.00"/>
<line x1="155.60" y1="500.60" x2="166.40" y2="500.60" stroke="#6d6e71" stroke-width="1.10"/>
<polygon points="161.00,498.29 158.80,502.47 163.20,502.47" fill="#6d6e71" stroke="none" stroke-width="1.00" stroke-linejoin="miter"/>
<text x="172.60" y="492.30" font-size="8.70" font-weight="normal" text-anchor="start" fill="#3a3a3c" textLength="23.30" lengthAdjust="spacingAndGlyphs">MCMV</text>
<text x="196.40" y="488.40" font-size="6.20" font-weight="normal" text-anchor="start" fill="#3a3a3c" textLength="9.20" lengthAdjust="spacingAndGlyphs">HA</text>
<text x="172.60" y="504.80" font-size="8.70" font-weight="normal" text-anchor="start" fill="#3a3a3c" textLength="23.00" lengthAdjust="spacingAndGlyphs">MCMV</text>
<text x="196.10" y="500.90" font-size="6.40" font-weight="normal" text-anchor="start" fill="#3a3a3c" textLength="20.80" lengthAdjust="spacingAndGlyphs">&#916;m157</text>
<line x1="256.80" y1="506.00" x2="256.80" y2="606.40" stroke="#231f20" stroke-width="1.30"/>
<line x1="256.20" y1="605.60" x2="406.00" y2="605.60" stroke="#231f20" stroke-width="1.30"/>
<line x1="251.80" y1="506.50" x2="256.80" y2="506.50" stroke="#231f20" stroke-width="1.30"/>
<text x="251.00" y="510.10" font-size="9.50" font-weight="bold" text-anchor="end" fill="#231f20">105</text>
<line x1="251.80" y1="526.30" x2="256.80" y2="526.30" stroke="#231f20" stroke-width="1.30"/>
<text x="251.00" y="529.90" font-size="9.50" font-weight="bold" text-anchor="end" fill="#231f20">100</text>
<line x1="251.80" y1="546.10" x2="256.80" y2="546.10" stroke="#231f20" stroke-width="1.30"/>
<text x="251.00" y="549.70" font-size="9.50" font-weight="bold" text-anchor="end" fill="#231f20">95</text>
<line x1="251.80" y1="565.90" x2="256.80" y2="565.90" stroke="#231f20" stroke-width="1.30"/>
<text x="251.00" y="569.50" font-size="9.50" font-weight="bold" text-anchor="end" fill="#231f20">90</text>
<line x1="251.80" y1="585.70" x2="256.80" y2="585.70" stroke="#231f20" stroke-width="1.30"/>
<text x="251.00" y="589.30" font-size="9.50" font-weight="bold" text-anchor="end" fill="#231f20">85</text>
<line x1="251.80" y1="605.50" x2="256.80" y2="605.50" stroke="#231f20" stroke-width="1.30"/>
<text x="251.00" y="609.10" font-size="9.50" font-weight="bold" text-anchor="end" fill="#231f20">80</text>
<line x1="256.70" y1="605.60" x2="256.70" y2="608.60" stroke="#231f20" stroke-width="1.30"/>
<text x="256.70" y="620.40" font-size="9.30" font-weight="bold" text-anchor="middle" fill="#231f20">0</text>
<line x1="284.74" y1="605.60" x2="284.74" y2="608.60" stroke="#231f20" stroke-width="1.30"/>
<text x="284.74" y="620.40" font-size="9.30" font-weight="bold" text-anchor="middle" fill="#231f20">1</text>
<line x1="312.78" y1="605.60" x2="312.78" y2="608.60" stroke="#231f20" stroke-width="1.30"/>
<text x="312.78" y="620.40" font-size="9.30" font-weight="bold" text-anchor="middle" fill="#231f20">2</text>
<line x1="340.82" y1="605.60" x2="340.82" y2="608.60" stroke="#231f20" stroke-width="1.30"/>
<text x="340.82" y="620.40" font-size="9.30" font-weight="bold" text-anchor="middle" fill="#231f20">3</text>
<line x1="368.86" y1="605.60" x2="368.86" y2="608.60" stroke="#231f20" stroke-width="1.30"/>
<text x="368.86" y="620.40" font-size="9.30" font-weight="bold" text-anchor="middle" fill="#231f20">4</text>
<line x1="396.90" y1="605.60" x2="396.90" y2="608.60" stroke="#231f20" stroke-width="1.30"/>
<text x="396.90" y="620.40" font-size="9.30" font-weight="bold" text-anchor="middle" fill="#231f20">5</text>
<text x="331.20" y="635.20" font-size="9.60" font-weight="bold" text-anchor="middle" fill="#231f20" textLength="92.00" lengthAdjust="spacingAndGlyphs">days after challenge</text>
<text transform="translate(230.2,555.3) rotate(-90)" x="0" y="0" font-size="10.3" font-weight="bold" text-anchor="middle" fill="#231f20">% of initial body weight</text>
<text x="311.70" y="491.70" font-size="10.30" font-weight="bold" text-anchor="start" fill="#231f20" textLength="29.20" lengthAdjust="spacingAndGlyphs">MCMV</text>
<text x="341.30" y="486.90" font-size="6.70" font-weight="bold" text-anchor="start" fill="#231f20" textLength="9.80" lengthAdjust="spacingAndGlyphs">HA</text>
<polyline points="256.80,526.10 290.00,538.20 315.50,541.30 336.80,533.90 368.00,532.30 397.00,533.20" fill="none" stroke="#58595b" stroke-width="1.00"/>
<polyline points="256.80,526.10 290.00,533.70 315.70,527.80 345.00,535.00 368.00,539.50 397.30,558.60" fill="none" stroke="#231f20" stroke-width="1.20"/>
<circle cx="255.20" cy="526.10" r="2.30" fill="#fff" stroke="#4d4d4f" stroke-width="1.00"/>
<circle cx="256.60" cy="526.10" r="2.30" fill="#fff" stroke="#4d4d4f" stroke-width="1.00"/>
<circle cx="258.00" cy="526.10" r="2.30" fill="#fff" stroke="#4d4d4f" stroke-width="1.00"/>
<circle cx="259.40" cy="526.10" r="2.30" fill="#fff" stroke="#4d4d4f" stroke-width="1.00"/>
<circle cx="260.80" cy="526.10" r="2.30" fill="#fff" stroke="#4d4d4f" stroke-width="1.00"/>
<circle cx="276.20" cy="534.80" r="2.30" fill="#fff" stroke="#4d4d4f" stroke-width="1.00"/>
<circle cx="280.70" cy="539.20" r="2.30" fill="#fff" stroke="#4d4d4f" stroke-width="1.00"/>
<circle cx="284.90" cy="541.20" r="2.30" fill="#fff" stroke="#4d4d4f" stroke-width="1.00"/>
<circle cx="288.70" cy="541.50" r="2.30" fill="#fff" stroke="#4d4d4f" stroke-width="1.00"/>
<circle cx="304.80" cy="536.30" r="2.30" fill="#fff" stroke="#4d4d4f" stroke-width="1.00"/>
<circle cx="304.80" cy="543.10" r="2.30" fill="#fff" stroke="#4d4d4f" stroke-width="1.00"/>
<circle cx="310.30" cy="540.40" r="2.30" fill="#fff" stroke="#4d4d4f" stroke-width="1.00"/>
<circle cx="315.50" cy="541.30" r="2.30" fill="#fff" stroke="#4d4d4f" stroke-width="1.00"/>
<circle cx="320.90" cy="541.20" r="2.30" fill="#fff" stroke="#4d4d4f" stroke-width="1.00"/>
<circle cx="337.00" cy="529.70" r="2.30" fill="#fff" stroke="#4d4d4f" stroke-width="1.00"/>
<circle cx="341.20" cy="533.30" r="2.30" fill="#fff" stroke="#4d4d4f" stroke-width="1.00"/>
<circle cx="345.20" cy="532.90" r="2.30" fill="#fff" stroke="#4d4d4f" stroke-width="1.00"/>
<circle cx="345.20" cy="537.70" r="2.30" fill="#fff" stroke="#4d4d4f" stroke-width="1.00"/>
<circle cx="348.90" cy="532.10" r="2.30" fill="#fff" stroke="#4d4d4f" stroke-width="1.00"/>
<circle cx="369.30" cy="521.60" r="2.30" fill="#fff" stroke="#4d4d4f" stroke-width="1.00"/>
<circle cx="373.20" cy="530.80" r="2.30" fill="#fff" stroke="#4d4d4f" stroke-width="1.00"/>
<circle cx="361.10" cy="534.90" r="2.30" fill="#fff" stroke="#4d4d4f" stroke-width="1.00"/>
<circle cx="369.30" cy="536.90" r="2.30" fill="#fff" stroke="#4d4d4f" stroke-width="1.00"/>
<circle cx="377.20" cy="534.40" r="2.30" fill="#fff" stroke="#4d4d4f" stroke-width="1.00"/>
<circle cx="397.70" cy="525.00" r="2.30" fill="#fff" stroke="#4d4d4f" stroke-width="1.00"/>
<circle cx="405.20" cy="533.40" r="2.30" fill="#fff" stroke="#4d4d4f" stroke-width="1.00"/>
<circle cx="399.90" cy="537.20" r="2.30" fill="#fff" stroke="#4d4d4f" stroke-width="1.00"/>
<circle cx="394.60" cy="540.30" r="2.30" fill="#fff" stroke="#4d4d4f" stroke-width="1.00"/>
<circle cx="389.50" cy="533.40" r="2.30" fill="#fff" stroke="#4d4d4f" stroke-width="1.00"/>
<circle cx="262.60" cy="526.10" r="2.10" fill="#231f20" stroke="none" stroke-width="1.00"/>
<circle cx="264.40" cy="526.10" r="2.10" fill="#231f20" stroke="none" stroke-width="1.00"/>
<circle cx="280.70" cy="528.20" r="2.10" fill="#231f20" stroke="none" stroke-width="1.00"/>
<circle cx="284.60" cy="531.50" r="2.10" fill="#231f20" stroke="none" stroke-width="1.00"/>
<circle cx="288.70" cy="531.90" r="2.10" fill="#231f20" stroke="none" stroke-width="1.00"/>
<circle cx="284.60" cy="535.50" r="2.10" fill="#231f20" stroke="none" stroke-width="1.00"/>
<circle cx="288.70" cy="536.60" r="2.10" fill="#231f20" stroke="none" stroke-width="1.00"/>
<circle cx="280.70" cy="544.30" r="2.10" fill="#231f20" stroke="none" stroke-width="1.00"/>
<circle cx="310.30" cy="522.90" r="2.10" fill="#231f20" stroke="none" stroke-width="1.00"/>
<circle cx="315.70" cy="519.80" r="2.10" fill="#231f20" stroke="none" stroke-width="1.00"/>
<circle cx="315.70" cy="527.80" r="2.10" fill="#231f20" stroke="none" stroke-width="1.00"/>
<circle cx="310.30" cy="530.50" r="2.10" fill="#231f20" stroke="none" stroke-width="1.00"/>
<circle cx="315.70" cy="535.90" r="2.10" fill="#231f20" stroke="none" stroke-width="1.00"/>
<circle cx="320.90" cy="533.90" r="2.10" fill="#231f20" stroke="none" stroke-width="1.00"/>
<circle cx="339.00" cy="523.80" r="2.10" fill="#231f20" stroke="none" stroke-width="1.00"/>
<circle cx="343.00" cy="524.90" r="2.10" fill="#231f20" stroke="none" stroke-width="1.00"/>
<circle cx="336.60" cy="533.70" r="2.10" fill="#231f20" stroke="none" stroke-width="1.00"/>
<circle cx="341.00" cy="538.10" r="2.10" fill="#231f20" stroke="none" stroke-width="1.00"/>
<circle cx="341.00" cy="549.40" r="2.10" fill="#231f20" stroke="none" stroke-width="1.00"/>
<circle cx="365.20" cy="531.30" r="2.10" fill="#231f20" stroke="none" stroke-width="1.00"/>
<circle cx="365.20" cy="536.40" r="2.10" fill="#231f20" stroke="none" stroke-width="1.00"/>
<circle cx="373.20" cy="536.90" r="2.10" fill="#231f20" stroke="none" stroke-width="1.00"/>
<circle cx="367.20" cy="543.10" r="2.10" fill="#231f20" stroke="none" stroke-width="1.00"/>
<circle cx="371.10" cy="544.40" r="2.10" fill="#231f20" stroke="none" stroke-width="1.00"/>
<circle cx="369.30" cy="554.60" r="2.10" fill="#231f20" stroke="none" stroke-width="1.00"/>
<circle cx="399.90" cy="529.50" r="2.10" fill="#231f20" stroke="none" stroke-width="1.00"/>
<circle cx="394.80" cy="532.60" r="2.10" fill="#231f20" stroke="none" stroke-width="1.00"/>
<circle cx="397.30" cy="564.30" r="2.10" fill="#231f20" stroke="none" stroke-width="1.00"/>
<circle cx="394.70" cy="572.50" r="2.10" fill="#231f20" stroke="none" stroke-width="1.00"/>
<circle cx="400.10" cy="574.80" r="2.10" fill="#231f20" stroke="none" stroke-width="1.00"/>
<circle cx="397.30" cy="579.70" r="2.10" fill="#231f20" stroke="none" stroke-width="1.00"/>
<line x1="262.30" y1="584.60" x2="272.80" y2="584.60" stroke="#231f20" stroke-width="1.10"/>
<circle cx="267.50" cy="584.60" r="2.00" fill="#231f20" stroke="none" stroke-width="1.00"/>
<line x1="262.30" y1="594.50" x2="272.80" y2="594.50" stroke="#58595b" stroke-width="1.00"/>
<circle cx="267.50" cy="594.50" r="2.00" fill="#fff" stroke="#58595b" stroke-width="0.90"/>
<text x="279.10" y="587.50" font-size="8.40" font-weight="normal" text-anchor="start" fill="#3a3a3c" textLength="13.40" lengthAdjust="spacingAndGlyphs">JHT</text>
<text x="279.10" y="597.40" font-size="8.40" font-weight="normal" text-anchor="start" fill="#3a3a3c" textLength="31.50" lengthAdjust="spacingAndGlyphs">C57BL/6</text>
<rect x="497.30" y="555.8" width="183.20" height="51.30" fill="#dcddde"/>
<line x1="497.30" y1="495.40" x2="497.30" y2="607.80" stroke="#231f20" stroke-width="1.50"/>
<line x1="496.70" y1="607.20" x2="681.20" y2="607.20" stroke="#231f20" stroke-width="1.50"/>
<line x1="492.10" y1="607.10" x2="497.30" y2="607.10" stroke="#231f20" stroke-width="1.40"/>
<text x="485.90" y="611.00" font-size="10.60" font-weight="bold" text-anchor="end" fill="#231f20">10</text>
<text x="486.80" y="607.50" font-size="6.60" font-weight="bold" text-anchor="start" fill="#231f20">0</text>
<line x1="492.10" y1="584.86" x2="497.30" y2="584.86" stroke="#231f20" stroke-width="1.40"/>
<text x="485.90" y="588.76" font-size="10.60" font-weight="bold" text-anchor="end" fill="#231f20">10</text>
<text x="486.80" y="585.26" font-size="6.60" font-weight="bold" text-anchor="start" fill="#231f20">1</text>
<line x1="492.10" y1="562.62" x2="497.30" y2="562.62" stroke="#231f20" stroke-width="1.40"/>
<text x="485.90" y="566.52" font-size="10.60" font-weight="bold" text-anchor="end" fill="#231f20">10</text>
<text x="486.80" y="563.02" font-size="6.60" font-weight="bold" text-anchor="start" fill="#231f20">2</text>
<line x1="492.10" y1="540.38" x2="497.30" y2="540.38" stroke="#231f20" stroke-width="1.40"/>
<text x="485.90" y="544.28" font-size="10.60" font-weight="bold" text-anchor="end" fill="#231f20">10</text>
<text x="486.80" y="540.78" font-size="6.60" font-weight="bold" text-anchor="start" fill="#231f20">3</text>
<line x1="492.10" y1="518.14" x2="497.30" y2="518.14" stroke="#231f20" stroke-width="1.40"/>
<text x="485.90" y="522.04" font-size="10.60" font-weight="bold" text-anchor="end" fill="#231f20">10</text>
<text x="486.80" y="518.54" font-size="6.60" font-weight="bold" text-anchor="start" fill="#231f20">4</text>
<line x1="492.10" y1="495.90" x2="497.30" y2="495.90" stroke="#231f20" stroke-width="1.40"/>
<text x="485.90" y="499.80" font-size="10.60" font-weight="bold" text-anchor="end" fill="#231f20">10</text>
<text x="486.80" y="496.30" font-size="6.60" font-weight="bold" text-anchor="start" fill="#231f20">5</text>
<line x1="525.10" y1="607.20" x2="525.10" y2="611.60" stroke="#231f20" stroke-width="1.40"/>
<line x1="567.00" y1="607.20" x2="567.00" y2="611.60" stroke="#231f20" stroke-width="1.40"/>
<line x1="609.90" y1="607.20" x2="609.90" y2="611.60" stroke="#231f20" stroke-width="1.40"/>
<line x1="652.00" y1="607.20" x2="652.00" y2="611.60" stroke="#231f20" stroke-width="1.40"/>
<text x="507.60" y="621.00" font-size="8.40" font-weight="bold" text-anchor="start" fill="#231f20" textLength="25.00" lengthAdjust="spacingAndGlyphs">MCMV</text>
<text x="533.20" y="616.30" font-size="5.80" font-weight="normal" text-anchor="start" fill="#231f20" textLength="9.20" lengthAdjust="spacingAndGlyphs">HA</text>
<text x="544.60" y="621.00" font-size="8.40" font-weight="bold" text-anchor="start" fill="#231f20" textLength="25.00" lengthAdjust="spacingAndGlyphs">MCMV</text>
<text x="570.20" y="616.30" font-size="5.80" font-weight="normal" text-anchor="start" fill="#231f20" textLength="19.70" lengthAdjust="spacingAndGlyphs">&#916;m157</text>
<text x="593.20" y="621.00" font-size="8.40" font-weight="bold" text-anchor="start" fill="#231f20" textLength="25.00" lengthAdjust="spacingAndGlyphs">MCMV</text>
<text x="618.80" y="616.30" font-size="5.80" font-weight="normal" text-anchor="start" fill="#231f20" textLength="8.70" lengthAdjust="spacingAndGlyphs">HA</text>
<text x="629.60" y="621.00" font-size="8.40" font-weight="bold" text-anchor="start" fill="#231f20" textLength="25.00" lengthAdjust="spacingAndGlyphs">MCMV</text>
<text x="655.20" y="616.30" font-size="5.80" font-weight="normal" text-anchor="start" fill="#231f20" textLength="19.80" lengthAdjust="spacingAndGlyphs">&#916;m157</text>
<text transform="translate(453.0,551.2) rotate(-90)" x="0" y="0" font-size="11.6" font-weight="bold" text-anchor="middle" fill="#231f20">FFU/ml</text>
<text transform="translate(467.4,550.9) rotate(-90)" x="0" y="0" font-size="11.9" font-weight="bold" text-anchor="middle" fill="#231f20">lung homogenate</text>
<line x1="510.80" y1="510.80" x2="538.60" y2="510.80" stroke="#231f20" stroke-width="1.10"/>
<circle cx="516.10" cy="508.90" r="2.30" fill="#231f20" stroke="none" stroke-width="1.00"/>
<circle cx="524.80" cy="512.00" r="2.30" fill="#231f20" stroke="none" stroke-width="1.00"/>
<circle cx="533.70" cy="505.30" r="2.30" fill="#231f20" stroke="none" stroke-width="1.00"/>
<circle cx="533.70" cy="510.10" r="2.30" fill="#231f20" stroke="none" stroke-width="1.00"/>
<circle cx="520.30" cy="556.00" r="2.30" fill="#231f20" stroke="none" stroke-width="1.00"/>
<circle cx="529.40" cy="556.00" r="2.30" fill="#231f20" stroke="none" stroke-width="1.00"/>
<line x1="553.30" y1="514.20" x2="581.40" y2="514.20" stroke="#231f20" stroke-width="1.10"/>
<polygon points="567.30,508.11 565.20,512.10 569.40,512.10" fill="#231f20" stroke="none" stroke-width="1.00" stroke-linejoin="miter"/>
<polygon points="567.30,519.01 565.20,523.00 569.40,523.00" fill="#231f20" stroke="none" stroke-width="1.00" stroke-linejoin="miter"/>
<g transform="translate(564.00,484.20) scale(1.000)">
<path d="M-2.3,2.2 C-2.3,0.6 -1.3,-0.1 0,-0.1 C1.3,-0.1 2.3,0.6 2.3,2.2 C2.3,3.4 1.6,3.9 1.2,4.2 L1.2,5.4 L-1.2,5.4 L-1.2,4.2 C-1.6,3.9 -2.3,3.4 -2.3,2.2 Z" fill="#231f20"/>
<rect x="-1.5" y="2.5" width="3" height="0.9" fill="#fff" opacity="0.45"/>
<line x1="-2.6" y1="6.3" x2="2.6" y2="9.4" stroke="#231f20" stroke-width="0.8"/>
<line x1="2.6" y1="6.3" x2="-2.6" y2="9.4" stroke="#231f20" stroke-width="0.8"/>
<circle cx="-2.80" cy="6.20" r="0.6" fill="#231f20"/>
<circle cx="2.80" cy="6.20" r="0.6" fill="#231f20"/>
<circle cx="-2.80" cy="9.50" r="0.6" fill="#231f20"/>
<circle cx="2.80" cy="9.50" r="0.6" fill="#231f20"/>
</g>
<g transform="translate(573.70,484.20) scale(1.000)">
<path d="M-2.3,2.2 C-2.3,0.6 -1.3,-0.1 0,-0.1 C1.3,-0.1 2.3,0.6 2.3,2.2 C2.3,3.4 1.6,3.9 1.2,4.2 L1.2,5.4 L-1.2,5.4 L-1.2,4.2 C-1.6,3.9 -2.3,3.4 -2.3,2.2 Z" fill="#231f20"/>
<rect x="-1.5" y="2.5" width="3" height="0.9" fill="#fff" opacity="0.45"/>
<line x1="-2.6" y1="6.3" x2="2.6" y2="9.4" stroke="#231f20" stroke-width="0.8"/>
<line x1="2.6" y1="6.3" x2="-2.6" y2="9.4" stroke="#231f20" stroke-width="0.8"/>
<circle cx="-2.80" cy="6.20" r="0.6" fill="#231f20"/>
<circle cx="2.80" cy="6.20" r="0.6" fill="#231f20"/>
<circle cx="-2.80" cy="9.50" r="0.6" fill="#231f20"/>
<circle cx="2.80" cy="9.50" r="0.6" fill="#231f20"/>
</g>
<line x1="595.50" y1="571.40" x2="624.40" y2="571.40" stroke="#231f20" stroke-width="1.00"/>
<circle cx="597.60" cy="571.40" r="2.20" fill="none" stroke="#231f20" stroke-width="0.90"/>
<circle cx="603.60" cy="571.40" r="2.20" fill="none" stroke="#231f20" stroke-width="0.90"/>
<circle cx="609.50" cy="571.40" r="2.20" fill="none" stroke="#231f20" stroke-width="0.90"/>
<circle cx="615.50" cy="571.40" r="2.20" fill="none" stroke="#231f20" stroke-width="0.90"/>
<circle cx="621.50" cy="571.40" r="2.20" fill="none" stroke="#231f20" stroke-width="0.90"/>
<line x1="638.10" y1="513.50" x2="666.70" y2="513.50" stroke="#231f20" stroke-width="1.10"/>
<polygon points="652.20,501.59 650.00,505.77 654.40,505.77" fill="#fff" stroke="#231f20" stroke-width="1.10" stroke-linejoin="miter"/>
<polygon points="652.20,506.29 650.00,510.47 654.40,510.47" fill="#fff" stroke="#231f20" stroke-width="1.10" stroke-linejoin="miter"/>
<polygon points="652.20,510.99 650.00,515.17 654.40,515.17" fill="#fff" stroke="#231f20" stroke-width="1.10" stroke-linejoin="miter"/>
<polygon points="652.20,527.09 650.00,531.27 654.40,531.27" fill="#fff" stroke="#231f20" stroke-width="1.10" stroke-linejoin="miter"/>
<polygon points="652.20,553.39 650.00,557.57 654.40,557.57" fill="#fff" stroke="#231f20" stroke-width="1.10" stroke-linejoin="miter"/>
<circle cx="514.60" cy="584.00" r="2.10" fill="#231f20" stroke="none" stroke-width="1.00"/>
<polygon points="523.90,581.92 521.90,585.72 525.90,585.72" fill="#231f20" stroke="none" stroke-width="1.00" stroke-linejoin="miter"/>
<circle cx="514.60" cy="596.30" r="2.00" fill="none" stroke="#231f20" stroke-width="1.20"/>
<polygon points="523.90,593.93 521.65,598.21 526.15,598.21" fill="none" stroke="#231f20" stroke-width="1.00" stroke-linejoin="miter"/>
<text x="534.70" y="587.30" font-size="9.20" font-weight="normal" text-anchor="start" fill="#3a3a3c" textLength="15.20" lengthAdjust="spacingAndGlyphs">JHT</text>
<text x="534.70" y="599.20" font-size="9.20" font-weight="normal" text-anchor="start" fill="#3a3a3c" textLength="35.00" lengthAdjust="spacingAndGlyphs">C57BL/6</text>
</svg></body></html>
